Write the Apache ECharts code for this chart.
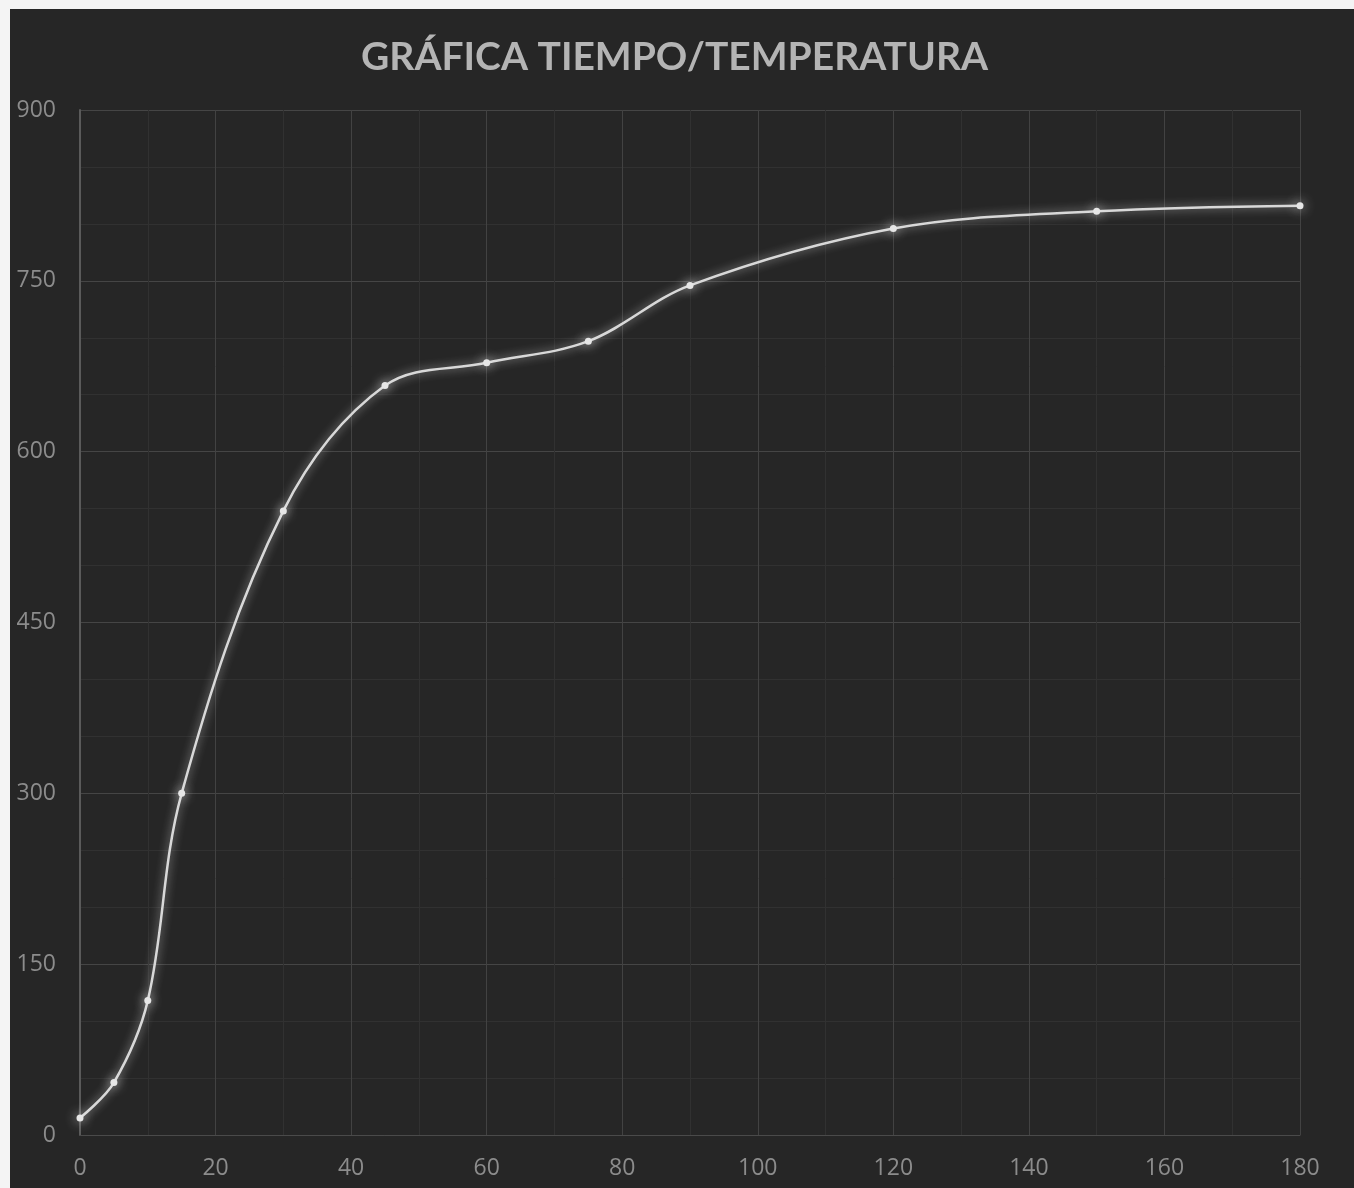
<!DOCTYPE html>
<html><head><meta charset="utf-8">
<script src="https://cdn.jsdelivr.net/npm/echarts@6/dist/echarts.min.js"></script>
<style>
html,body{margin:0;padding:0;background:#f4f4f4;width:1354px;height:1188px;overflow:hidden;}
#c{position:absolute;left:10px;top:9px;width:1344px;height:1179px;background:#262626;}
</style></head><body>
<div id="c"></div>
<script>
const chartTitle = 'GRÁFICA TIEMPO/TEMPERATURA';
const tiempo = [0, 5, 10, 15, 30, 45, 60, 75, 90, 120, 150, 180];
const temperatura = [15, 46, 118, 300, 548, 658, 678, 697, 746, 796, 811, 816];
const xAxisRange = {min: 0, max: 180, interval: 20};
const yAxisRange = {min: 0, max: 900, interval: 150};

const chart = echarts.init(document.getElementById('c'));
chart.setOption({
  backgroundColor: '#262626',
  animation: false,
  title: {
    text: chartTitle, left: 346, top: 24,
    textStyle: {color: '#b4b4b4', fontSize: 39, fontWeight: 'bold', fontFamily: 'Lato'}
  },
  grid: {left: 70, right: 54, top: 101, bottom: 53},
  xAxis: {
    type: 'value', min: xAxisRange.min, max: xAxisRange.max, interval: xAxisRange.interval,
    axisLine: {show: true, lineStyle: {color: '#4a4a4a', width: 1}},
    axisTick: {show: false},
    axisLabel: {color: '#8c8c8c', fontSize: 23, margin: 22, fontFamily: 'Open Sans'},
    splitLine: {show: true, lineStyle: {color: '#424242', width: 1}},
    minorTick: {show: false, splitNumber: 2},
    minorSplitLine: {show: true, lineStyle: {color: '#313131', width: 1}}
  },
  yAxis: {
    type: 'value', min: yAxisRange.min, max: yAxisRange.max, interval: yAxisRange.interval,
    axisLine: {show: true, lineStyle: {color: '#5a5a5a', width: 2}},
    axisTick: {show: false},
    axisLabel: {color: '#8c8c8c', fontSize: 23, margin: 24, fontFamily: 'Open Sans'},
    splitLine: {show: true, lineStyle: {color: '#454545', width: 1}},
    minorTick: {show: false, splitNumber: 3},
    minorSplitLine: {show: true, lineStyle: {color: '#313131', width: 1}}
  },
  series: [{
    type: 'line',
    data: tiempo.map((t, i) => [t, temperatura[i]]),
    smooth: 0.35,
    symbol: 'circle', symbolSize: 7,
    itemStyle: {color: '#e6e6e6', shadowBlur: 12, shadowColor: 'rgba(255,255,255,0.85)'},
    lineStyle: {color: '#d8d8d8', width: 2.5, shadowBlur: 10, shadowColor: 'rgba(255,255,255,0.65)'}
  }]
});
</script>
</body></html>
